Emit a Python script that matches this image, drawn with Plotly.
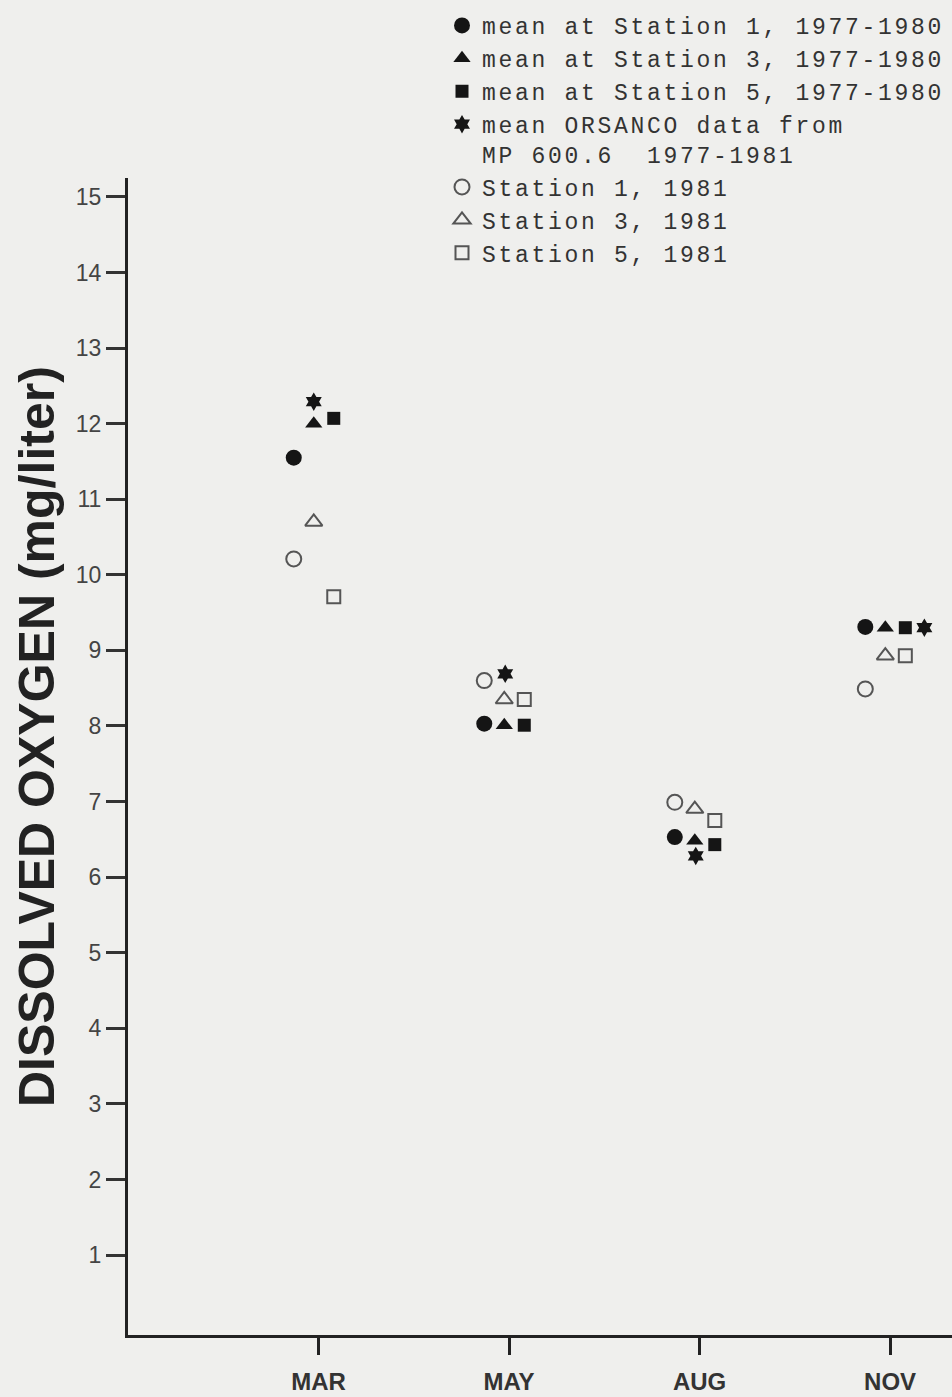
import plotly.graph_objects as go

# ---- data ----
months = ["MAR", "MAY", "AUG", "NOV"]
month_pos = [1, 2, 3, 4]

mean_st1_7780 = [11.55, 8.03, 6.53, 9.31]
mean_st3_7780 = [12.00, 8.01, 6.48, 9.30]
mean_st5_7780 = [12.07, 8.01, 6.43, 9.30]
orsanco_7781 = [12.29, 8.69, 6.28, 9.30]
st1_1981 = [10.21, 8.60, 6.99, 8.49]
st3_1981 = [10.70, 8.35, 6.90, 8.93]
st5_1981 = [9.71, 8.35, 6.75, 8.93]

y_ticks = list(range(1, 16))

names = [
    "mean at Station 1, 1977-1980",
    "mean at Station 3, 1977-1980",
    "mean at Station 5, 1977-1980",
    "mean ORSANCO data from<br>MP 600.6  1977-1981",
    "Station 1, 1981",
    "Station 3, 1981",
    "Station 5, 1981",
]

# ---- styling / layout (horizontal jitter inside each month group) ----
offsets = {
    "circle": [-0.13] * 4,
    "triangle": [-0.025] * 4,
    "square": [0.08] * 4,
    "star": [-0.025, -0.02, -0.02, 0.18],
}
DARK = "#151515"
GREY = "#555555"
BG = "#efefed"
SPACED = '<span style="letter-spacing:2.7px">{}</span>'

series = [
    (mean_st1_7780, "circle", "circle", 16, DARK),
    (mean_st3_7780, "triangle-up", "triangle", 15, DARK),
    (mean_st5_7780, "square", "square", 13, DARK),
    (orsanco_7781, "hexagram", "star", 14, DARK),
    (st1_1981, "circle-open", "circle", 15, GREY),
    (st3_1981, "triangle-up-open", "triangle", 15, GREY),
    (st5_1981, "square-open", "square", 13, GREY),
]

fig = go.Figure()
for (vals, sym, okey, size, col), name in zip(series, names):
    xs = [p + o for p, o in zip(month_pos, offsets[okey])]
    label = "<br>".join(SPACED.format(part) for part in name.split("<br>"))
    fig.add_trace(go.Scatter(
        x=xs, y=vals, mode="markers", name=label,
        marker=dict(symbol=sym, size=size, color=col,
                    line=dict(width=2 if "open" in sym else 0, color=col)),
    ))

W, H = 952, 1397
L, R, T, B = 128, 0, 178, 62
plot_w = W - L - R
plot_h = H - T - B

fig.update_layout(
    width=W, height=H,
    margin=dict(l=L, r=R, t=T, b=B),
    paper_bgcolor=BG, plot_bgcolor=BG,
    showlegend=True,
    legend=dict(
        x=(442 - L) / plot_w, y=1 + (T - 4) / plot_h,
        xanchor="left", yanchor="top", valign="top",
        bgcolor="rgba(0,0,0,0)",
        font=dict(family="Liberation Mono", size=23, color="#333333"),
        tracegroupgap=0,
    ),
    xaxis=dict(
        range=[0, 4.325], tickvals=month_pos, ticktext=months,
        showline=True, linewidth=3, linecolor="#222222",
        ticks="outside", ticklen=17, tickwidth=3, tickcolor="#222222",
        showgrid=False, zeroline=False, ticklabelstandoff=6,
        tickfont=dict(family="Liberation Sans", size=24, color="#333333", weight="bold"),
    ),
    yaxis=dict(
        range=[-0.058, 15.25], tickvals=y_ticks,
        showline=True, linewidth=3, linecolor="#222222",
        ticks="outside", ticklen=19, tickwidth=2.5, tickcolor="#333333",
        showgrid=False, zeroline=False,
        tickfont=dict(family="Liberation Sans Narrow, Liberation Sans", size=23, color="#444444"),
    ),
    annotations=[dict(
        text="DISSOLVED OXYGEN (mg/liter)",
        xref="paper", yref="paper",
        x=(37 - L) / plot_w, y=(H - B - 737) / plot_h,
        xanchor="center", yanchor="middle", textangle=-90, showarrow=False,
        font=dict(family="Liberation Sans", size=50, color="#222222", weight="bold"),
    )],
)

fig.write_html("out.html")
